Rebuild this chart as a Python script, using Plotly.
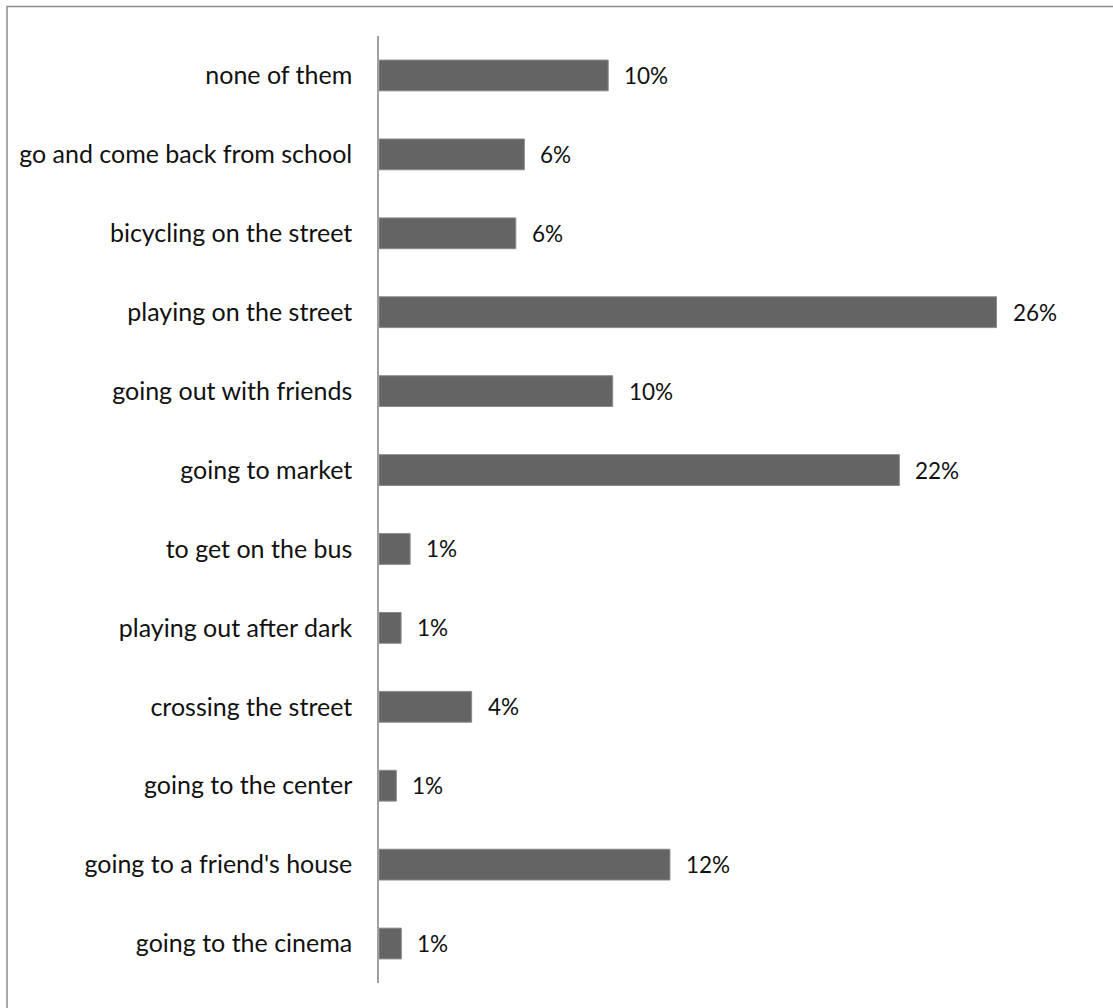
import plotly.graph_objects as go

categories = [
    "none of them",
    "go and come back from school",
    "bicycling on the street",
    "playing on the street",
    "going out with friends",
    "going to market",
    "to get on the bus",
    "playing out after dark",
    "crossing the street",
    "going to the center",
    "going to a friend's house",
    "going to the cinema",
]
values = [0.0965, 0.0612, 0.0576, 0.260, 0.0984, 0.2191, 0.0131, 0.0093, 0.0390, 0.0073, 0.1225, 0.0094]

W, H = 1113, 1008
L, R, T, B = 379, 69, 36, 25
pw = W - L - R
ph = H - T - B

fig = go.Figure()
fig.add_trace(go.Bar(
    x=values, y=categories, orientation="h",
    marker=dict(color="#646464", line=dict(color="#8a8a8a", width=1)),
    width=0.39,
    hoverinfo="skip",
))

font_family = "Lato, 'Open Sans', sans-serif"
for c, v in zip(categories, values):
    fig.add_annotation(
        x=v, y=c, text=f"{v:.0%}", showarrow=False,
        xanchor="left", yanchor="middle", xshift=14,
        font=dict(family=font_family, size=22.5, color="#111111"),
    )

fig.add_shape(
    type="rect", xref="paper", yref="paper",
    x0=(7 - L) / pw, x1=1.3, y0=-0.2, y1=1 + (T - 6.5) / ph,
    line=dict(color="#8c8c8c", width=1.5), fillcolor="rgba(0,0,0,0)", layer="below",
)

fig.update_layout(
    width=W, height=H,
    margin=dict(l=L, r=R, t=T, b=B, pad=0),
    paper_bgcolor="white", plot_bgcolor="white",
    showlegend=False,
    font=dict(family=font_family, size=22.5, color="#111111"),
    xaxis=dict(range=[0, 0.28], visible=False, fixedrange=True),
    yaxis=dict(
        autorange="reversed", showline=True, linecolor="#a0a0a0", linewidth=1.5,
        ticks="", ticklabelstandoff=20, showgrid=False, zeroline=False,
        tickfont=dict(family=font_family, size=25, color="#111111"),
    ),
)

fig.write_html("out.html")
